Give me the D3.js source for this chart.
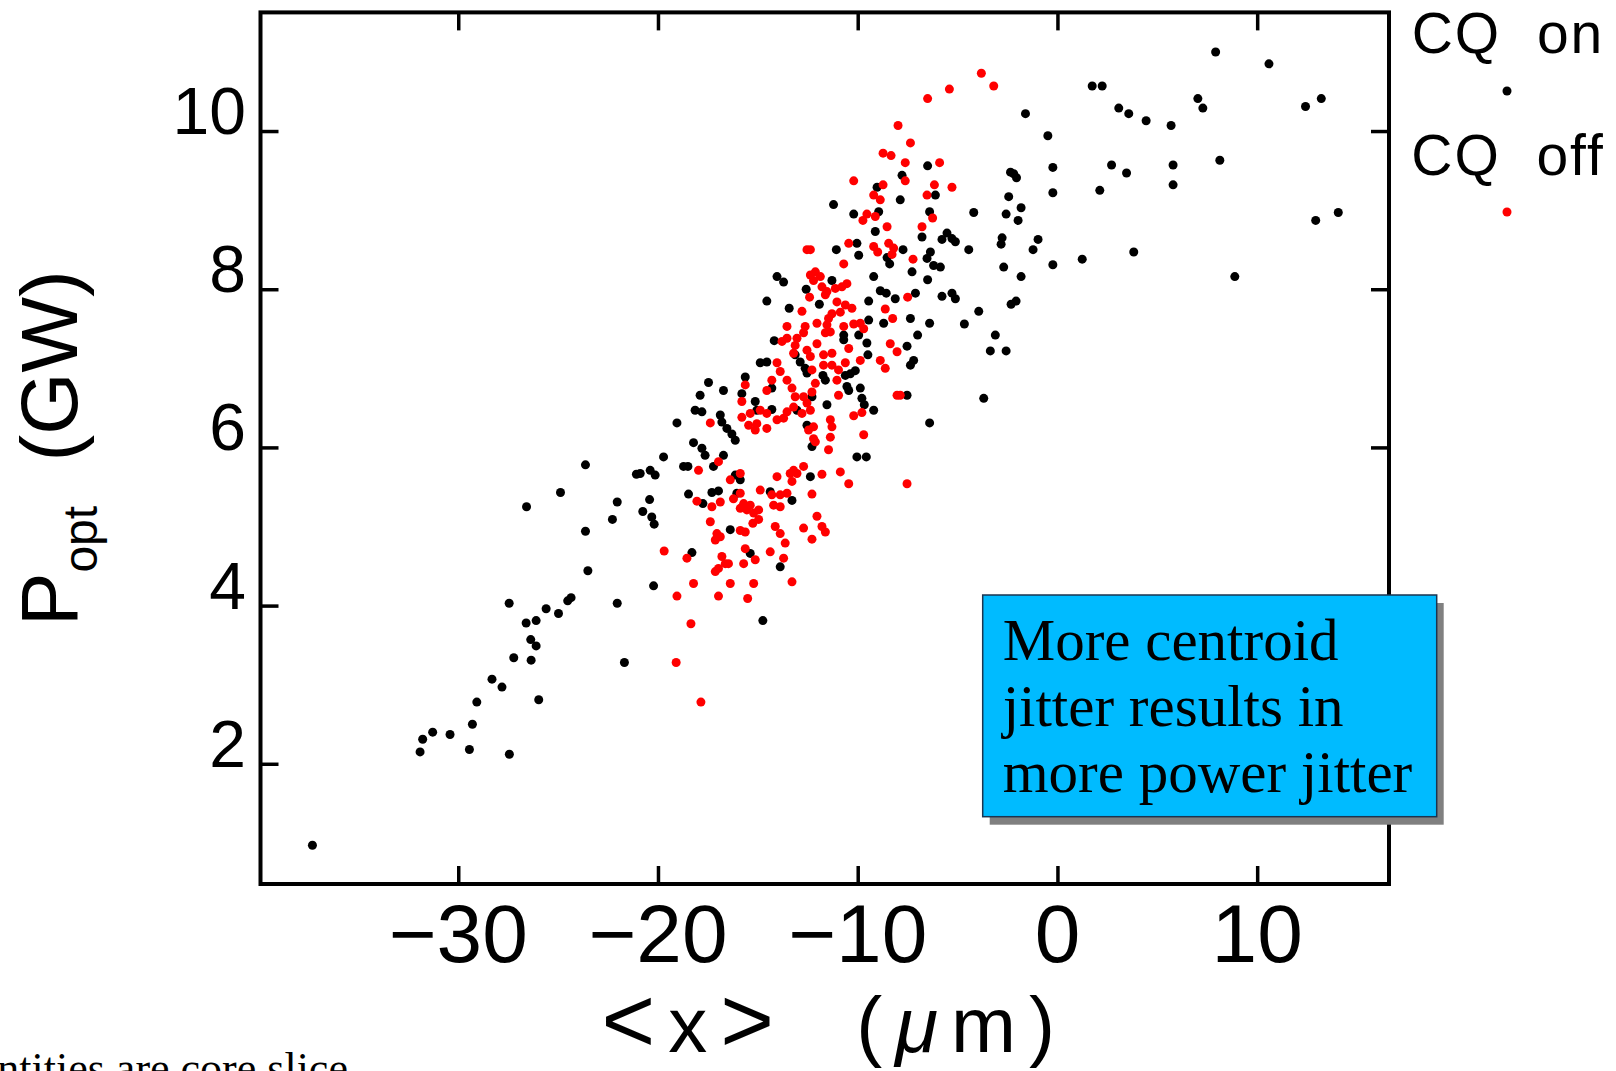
<!DOCTYPE html>
<html>
<head>
<meta charset="utf-8">
<script src="https://cdn.jsdelivr.net/npm/d3@7"></script>
<style>
  html, body { margin: 0; padding: 0; background: #fff; overflow: hidden; }
  text { font-family: "Liberation Sans", Arial, Helvetica, sans-serif; }
  .serif { font-family: "Liberation Serif", "Times New Roman", serif; }
</style>
</head>
<body>
<svg id="chart" width="1616" height="1071"></svg>
<script>
// Axis extents and ticks
const xDomain = [-39.9, 16.6];
const yDomain = [0.48, 11.5];
const xTicks = [-30, -20, -10, 0, 10];
const yTicks = [2, 4, 6, 8, 10];

// Series labels and annotation text
const seriesNames = ["CQ  on", "CQ  off"];
const noteLines = ["More centroid", "jitter results in", "more power jitter"];
const footnote = "Quantities are core slice";

// Shots with the corrector quads on: [<x> (um), P_opt (GW)]
const cqOn = [
  [-37.3,0.97],
  [-31.91,2.15],[-31.78,2.31],[-31.28,2.40],[-30.41,2.37],[-29.44,2.18],[-29.29,2.50],[-29.07,2.78],
  [-28.31,3.07],[-27.81,2.97],[-27.44,2.12],[-27.22,3.34],[-26.35,3.31],[-26.37,3.57],[-26.10,3.49],
  [-26.60,3.78],[-26.10,3.81],[-25.60,3.96],[-24.98,3.90],[-24.52,4.06],[-24.35,4.10],[-27.45,4.03],
  [-25.97,2.81],[-23.63,4.94],[-23.51,4.44],[-26.58,5.25],[-24.88,5.43],[-23.63,5.78],[-22.28,5.09],
  [-22.04,5.31],[-22.04,4.03],[-21.68,3.28],[-21.08,5.66],
  [-9.03,9.29],[-6.11,9.19],[-11.21,9.07],[-7.87,9.13],[-4.19,8.97],[-10.20,8.95],[-8.95,8.98],
  [-6.40,8.98],[-9.12,8.73],[-6.78,8.66],[-5.53,8.71],[-5.28,8.64],[-5.11,8.60],[-5.78,8.63],
  [-4.44,8.50],[-10.04,8.58],[-9.95,8.43],[-8.53,8.40],[-7.73,8.50],[-6.36,8.47],[-6.53,8.39],
  [-6.20,8.30],[-5.86,8.28],[-11.07,8.50],
  [-14.04,8.16],[-13.71,8.09],[-11.29,8.11],[-12.58,8.00],[-11.92,7.81],[-14.55,7.85],[-13.43,7.76],
  [-9.45,7.85],[-8.87,7.98],[-8.57,7.95],[-8.12,7.88],[-7.11,7.95],[-8.40,8.32],[-7.28,8.22],
  [-6.50,8.12],[-9.20,8.16],[-5.78,7.91],[-5.28,7.95],[-5.11,7.88],[-3.94,7.72],[-7.36,7.63],
  [-6.40,7.57],[-4.66,7.56],[-9.45,7.61],[-8.70,7.57],[-14.18,7.35],[-10.70,7.42],[-10.70,7.36],
  [-9.95,7.42],[-9.54,7.32],[-9.49,7.17],[-7.00,7.42],[-7.53,7.28],[-3.11,7.42],[-3.36,7.22],
  [-7.20,7.10],[-7.36,7.04],[-13.13,7.17],[-12.88,7.08],[-12.63,7.00],[-12.54,6.94],[-10.62,6.91],
  [-10.37,6.93],[-10.12,6.97],[-11.74,6.91],[-11.62,6.85],[-14.88,7.07],[-14.55,7.08],[-14.30,6.75],
  [-15.63,6.89],[-15.80,6.68],[-15.13,6.58],[-15.05,6.47],[-14.30,6.48],[-13.04,6.47],[-12.29,6.64],
  [-11.54,6.54],[-10.54,6.77],[-10.45,6.72],[-9.87,6.75],[-9.79,6.62],[-9.67,6.54],[-9.20,6.47],
  [-7.53,6.66],[-3.69,6.62],[-6.40,6.31],[-12.54,6.28],[-12.29,6.01],[-10.04,5.88],[-9.57,5.88],
  [-17.47,6.82],[-17.89,6.66],[-16.72,6.72],[-18.14,6.47],[-17.80,6.45],[-16.88,6.41],[-16.80,6.32],
  [-16.55,6.24],[-16.30,6.17],[-16.13,6.09],[-19.05,6.31],[-18.22,6.06],[-17.80,5.99],[-17.64,5.90],
  [-16.72,5.90],[-17.22,5.76],[-18.72,5.76],[-18.50,5.76],[-19.72,5.88],[-20.89,5.67],[-20.39,5.71],
  [-20.14,5.65],[-20.42,5.34],[-20.76,5.19],[-20.31,5.12],[-20.19,5.03],[-18.47,5.41],[-17.75,5.29],
  [-17.30,5.43],[-16.97,5.45],[-16.05,5.42],[-16.13,5.65],[-15.88,5.59],[-14.38,5.44],[-13.29,5.33],
  [-12.37,5.63],[-16.38,4.96],[-15.38,4.66],[-13.88,4.49],[-18.30,4.67],[-20.22,4.25],[-14.75,3.81],
  [-6.50,9.56],[-7.78,9.44],
  [7.92,11.00],[10.59,10.85],[1.74,10.57],[2.24,10.57],[-1.60,10.22],[-0.48,9.94],[3.07,10.29],
  [3.57,10.22],[4.44,10.13],[5.69,10.07],[7.03,10.41],[7.28,10.29],[12.42,10.31],[13.21,10.41],
  [-0.23,9.54],[-0.23,9.22],[2.71,9.57],[3.46,9.47],[5.79,9.57],[5.79,9.32],[8.13,9.63],[2.12,9.25],
  [-2.35,9.48],[-2.19,9.46],[-2.05,9.41],[-2.44,9.17],[-1.82,9.03],[-2.57,8.95],[-1.97,8.87],
  [14.06,8.97],[12.93,8.87],[3.82,8.47],[1.24,8.38],[-0.23,8.31],[8.88,8.16],[-0.97,8.63],
  [-1.22,8.50],[-2.69,8.28],[-1.82,8.16],[-2.77,8.65],[-2.82,8.57],[-2.32,7.81],[-2.07,7.85],
  [-2.57,7.22]
];

// Shots with the corrector quads off: [<x> (um), P_opt (GW)]
const cqOff = [
  [-19.09,3.28],[-17.85,2.78],
  [-7.98,10.07],[-8.73,9.72],[-8.33,9.69],
  [-3.81,10.73],[-3.19,10.57],[-5.41,10.53],[-6.50,10.41],[-7.36,9.85],[-7.62,9.60],[-5.90,9.60],
  [-10.20,9.37],[-8.73,9.32],[-7.62,9.37],[-6.16,9.32],[-5.28,9.29],[-6.53,9.19],[-9.20,9.19],
  [-8.87,9.13],[-9.54,8.95],[-9.12,8.92],[-9.74,8.87],[-6.25,8.90],[-8.53,8.79],[-6.78,8.79],
  [-10.45,8.58],[-9.20,8.54],[-9.00,8.47],[-8.45,8.58],[-8.20,8.52],[-8.28,8.44],[-7.23,8.38],
  [-12.54,8.50],[-12.37,8.50],
  [-10.70,8.32],[-12.37,8.18],[-12.12,8.22],[-11.87,8.16],[-12.21,8.11],[-11.79,8.03],[-11.54,7.97],
  [-11.12,8.01],[-10.79,8.03],[-10.54,8.07],[-11.62,7.93],[-12.41,7.90],[-12.79,7.72],[-11.04,7.84],
  [-10.62,7.80],[-10.29,7.76],[-10.87,7.71],[-7.50,7.90],[-8.62,7.75],[-8.25,7.63],[-11.29,7.69],
  [-11.46,7.63],[-11.54,7.55],[-12.04,7.57],[-13.54,7.53],[-12.63,7.53],[-12.71,7.45],[-13.04,7.38],
  [-13.54,7.38],[-13.79,7.34],[-12.04,7.31],[-11.62,7.45],[-11.37,7.46],[-10.70,7.53],[-10.20,7.56],
  [-9.87,7.57],[-9.70,7.50],[-10.45,7.25],[-8.37,7.31],[-8.03,7.21],[-9.87,7.10],[-8.87,7.10],
  [-8.62,7.00],[-13.13,7.29],[-13.21,7.19],[-12.54,7.23],[-12.37,7.15],[-11.71,7.17],[-11.29,7.19],
  [-12.29,6.98],[-11.71,7.04],[-11.29,7.04],[-10.96,6.98],[-10.62,7.07],[-14.04,7.07],[-13.88,6.96],
  [-14.30,6.85],[-14.55,6.72],[-13.54,6.85],[-13.29,6.75],[-13.13,6.64],[-15.63,6.79],[-15.80,6.58],
  [-14.88,6.47],[-14.55,6.43],[-15.38,6.43],[-15.80,6.38],[-15.46,6.28],[-15.05,6.30],[-15.13,6.22],
  [-14.55,6.24],[-14.04,6.35],[-13.71,6.37],[-13.54,6.45],[-13.21,6.51],[-12.79,6.43],[-12.71,6.64],
  [-12.29,6.70],[-12.12,6.81],[-12.54,6.56],[-12.37,6.47],[-11.37,6.35],[-11.29,6.26],[-10.96,6.66],
  [-11.04,6.85],[-8.03,6.66],[-7.87,6.66],[-10.20,6.40],[-9.79,6.44],[-9.70,6.16],[-12.46,6.22],
  [-12.21,6.26],[-12.21,6.11],[-12.12,6.07],[-11.46,5.97],[-11.37,6.13],[-11.79,5.66],[-10.87,5.69],
  [-10.45,5.54],[-7.53,5.54],
  [-17.38,6.31],[-16.97,5.82],[-17.97,5.71],[-18.05,5.32],[-17.30,5.25],[-16.88,5.31],[-16.22,5.35],
  [-15.88,5.42],[-16.38,5.59],[-15.88,5.67],[-15.71,5.29],[-15.55,5.21],[-15.88,5.23],[-15.38,5.27],
  [-15.21,5.17],[-14.96,5.21],[-14.96,5.09],[-15.25,5.04],[-15.63,4.93],[-15.88,4.95],[-14.88,5.46],
  [-14.30,5.40],[-13.88,5.40],[-13.54,5.42],[-14.04,5.63],[-13.38,5.67],[-13.21,5.71],[-13.04,5.67],
  [-12.71,5.76],[-13.29,5.57],[-13.88,5.25],[-14.21,5.27],[-14.13,5.00],[-13.88,4.91],[-13.63,4.79],
  [-12.71,4.98],[-12.29,4.84],[-12.29,5.41],[-12.04,5.13],[-11.79,5.00],[-11.62,4.93],[-17.38,5.06],
  [-17.05,4.91],[-17.13,4.83],[-16.88,4.87],[-16.80,4.62],[-16.63,4.53],[-16.97,4.47],[-17.13,4.43],
  [-16.47,4.53],[-15.71,4.53],[-15.63,4.72],[-15.13,4.58],[-14.38,4.68],[-13.71,4.60],[-13.29,4.30],
  [-15.21,4.28],[-16.38,4.28],[-18.22,4.28],[-18.55,4.60],[-19.69,4.69],[-19.05,4.12],[-16.97,4.12],
  [-15.51,4.09],[-18.35,3.77]
];

const svg = d3.select("#chart");
const plot = { left: 260.5, right: 1389, top: 12.4, bottom: 884 };

const x = d3.scaleLinear().domain(xDomain).range([plot.left, plot.right]);
const y = d3.scaleLinear().domain(yDomain).range([plot.bottom, plot.top]);

// Inward ticks on all four sides of the frame
const tickLen = 18;
function styleTicks(g) {
  g.select(".domain").remove();
  g.selectAll(".tick line").attr("stroke", "#000").attr("stroke-width", 3.5);
  g.selectAll(".tick text").remove();
}
svg.append("g").attr("transform", `translate(0,${plot.bottom})`)
  .call(d3.axisBottom(x).tickValues(xTicks).tickSize(-tickLen)).call(styleTicks);
svg.append("g").attr("transform", `translate(0,${plot.top})`)
  .call(d3.axisTop(x).tickValues(xTicks).tickSize(-tickLen)).call(styleTicks);
svg.append("g").attr("transform", `translate(${plot.left},0)`)
  .call(d3.axisLeft(y).tickValues(yTicks).tickSize(-tickLen)).call(styleTicks);
svg.append("g").attr("transform", `translate(${plot.right},0)`)
  .call(d3.axisRight(y).tickValues(yTicks).tickSize(-tickLen)).call(styleTicks);

// Tick labels
const fmt = d3.format("d");
svg.append("g").selectAll("text").data(xTicks).join("text")
  .attr("x", d => x(d)).attr("y", 962)
  .attr("text-anchor", "middle").attr("font-size", 82)
  .text(d => fmt(d));
svg.append("g").selectAll("text").data(yTicks).join("text")
  .attr("x", 246).attr("y", d => y(d) + 3)
  .attr("text-anchor", "end").attr("font-size", 66)
  .text(d => fmt(d));

// Points
const r = 4.5;
svg.append("g").selectAll("circle").data(cqOn).join("circle")
  .attr("cx", d => x(d[0])).attr("cy", d => y(d[1])).attr("r", r).attr("fill", "#000");
svg.append("g").selectAll("circle").data(cqOff).join("circle")
  .attr("cx", d => x(d[0])).attr("cy", d => y(d[1])).attr("r", r).attr("fill", "#ff0000");

// Frame
svg.append("rect")
  .attr("x", plot.left).attr("y", plot.top)
  .attr("width", plot.right - plot.left).attr("height", plot.bottom - plot.top)
  .attr("fill", "none").attr("stroke", "#000").attr("stroke-width", 4);

// Axis titles
const xt = svg.append("text")
  .attr("x", (plot.left + plot.right) / 2 + 10).attr("y", 1052)
  .attr("text-anchor", "middle").attr("font-size", 78)
  .attr("letter-spacing", 13).style("white-space", "pre");
xt.append("tspan").attr("font-size", 92).text("<");
xt.append("tspan").text("x");
xt.append("tspan").attr("font-size", 92).text(">");
xt.append("tspan").text("  (");
xt.append("tspan").attr("font-style", "italic").text("\u03bc");
xt.append("tspan").text("m)");

const yt = svg.append("text")
  .attr("transform", `translate(77,${(plot.top + plot.bottom) / 2}) rotate(-90)`)
  .attr("text-anchor", "middle").attr("font-size", 80).style("white-space", "pre");
yt.append("tspan").text("P");
yt.append("tspan").attr("font-size", 48).attr("dy", 20).text("opt");
yt.append("tspan").attr("dy", -20).text("  (GW)");

// Legend
const legendX = 1507;
const legendColors = ["#000", "#ff0000"];
const legendRows = [{ base: 53, dot: 91 }, { base: 175, dot: 212 }];
seriesNames.forEach((name, i) => {
  svg.append("text").attr("x", legendX + 1).attr("y", legendRows[i].base)
    .attr("text-anchor", "middle").attr("font-size", 57).attr("letter-spacing", 2)
    .style("white-space", "pre")
    .text(name);
  svg.append("circle").attr("cx", legendX).attr("cy", legendRows[i].dot)
    .attr("r", r).attr("fill", legendColors[i]);
});

// Annotation box with drop shadow
const box = { x: 982.7, y: 595, w: 454, h: 221.7 };
svg.append("rect").attr("x", box.x + 7).attr("y", box.y + 8)
  .attr("width", box.w).attr("height", box.h).attr("fill", "#808080");
svg.append("rect").attr("x", box.x).attr("y", box.y)
  .attr("width", box.w).attr("height", box.h)
  .attr("fill", "#00bbff").attr("stroke", "#1b3550").attr("stroke-width", 1.5);
svg.append("g").selectAll("text").data(noteLines).join("text")
  .attr("class", "serif")
  .attr("x", box.x + 20).attr("y", (d, i) => 660 + i * 65.8)
  .attr("font-size", 59).attr("fill", "#000")
  .text(d => d);

// Footnote running off the lower edge
svg.append("text").attr("class", "serif")
  .attr("x", -76).attr("y", 1083).attr("font-size", 44)
  .text(footnote);
</script>
</body>
</html>
